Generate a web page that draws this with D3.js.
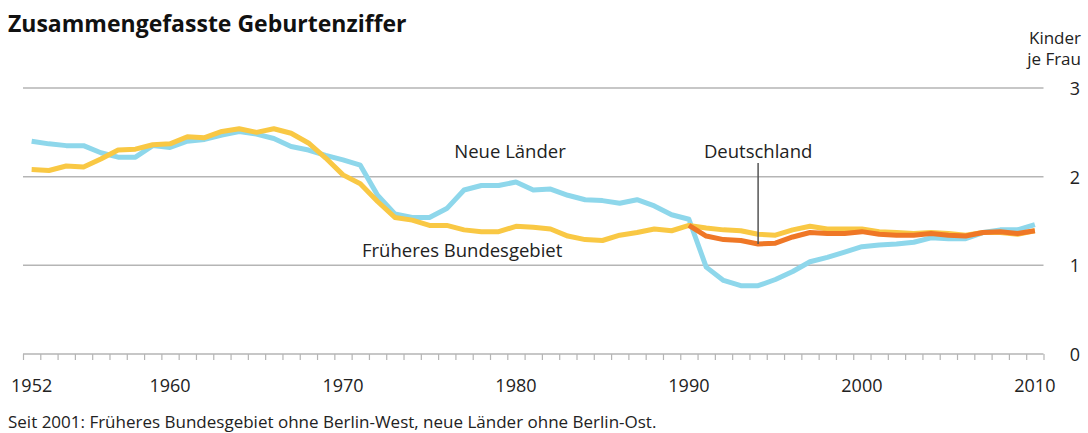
<!DOCTYPE html>
<html>
<head>
<meta charset="utf-8">
<script src="https://cdn.jsdelivr.net/npm/d3@7"></script>
<style>
  html, body { margin: 0; padding: 0; background: #fff; }
  svg { display: block; }
  text { font-family: "Open Sans", "Noto Sans", sans-serif; fill: #222; }
</style>
</head>
<body>
<svg id="chart" width="1088" height="433"></svg>
<script>
// ---- Data ----
const firstYear = 1952;
const lastYear = 2010;
const years = d3.range(firstYear, lastYear + 1);

const westValues = [2.08, 2.07, 2.12, 2.11, 2.20, 2.30, 2.31, 2.36, 2.37, 2.45,
  2.44, 2.51, 2.54, 2.50, 2.54, 2.49, 2.38, 2.21, 2.02, 1.92,
  1.72, 1.54, 1.51, 1.45, 1.45, 1.40, 1.38, 1.38, 1.44, 1.43,
  1.41, 1.33, 1.29, 1.28, 1.34, 1.37, 1.41, 1.39, 1.45, 1.42,
  1.40, 1.39, 1.35, 1.34, 1.40, 1.44, 1.41, 1.41, 1.41, 1.38,
  1.37, 1.36, 1.37, 1.36, 1.34, 1.37, 1.37, 1.35, 1.39];

const eastValues = [2.40, 2.37, 2.35, 2.35, 2.27, 2.22, 2.22, 2.35, 2.33, 2.40,
  2.42, 2.47, 2.51, 2.48, 2.43, 2.34, 2.30, 2.24, 2.19, 2.13,
  1.79, 1.58, 1.54, 1.54, 1.64, 1.85, 1.90, 1.90, 1.94, 1.85,
  1.86, 1.79, 1.74, 1.73, 1.70, 1.74, 1.67, 1.57, 1.52, 0.98,
  0.83, 0.77, 0.77, 0.84, 0.93, 1.04, 1.09, 1.15, 1.21, 1.23,
  1.24, 1.26, 1.31, 1.30, 1.30, 1.37, 1.40, 1.40, 1.46];

const germanyYears = d3.range(1990, 2011);
const germanyValues = [1.45, 1.33, 1.29, 1.28, 1.24, 1.25, 1.32, 1.37, 1.36, 1.36,
  1.38, 1.35, 1.34, 1.34, 1.36, 1.34, 1.33, 1.37, 1.38, 1.36, 1.39];

const xTickLabels = [1952, 1960, 1970, 1980, 1990, 2000, 2010];
const yTickValues = [0, 1, 2, 3];
const gridValues = [1, 2, 3];

const title = "Zusammengefasste Geburtenziffer";
const unitLines = ["Kinder", "je Frau"];
const footnote = "Seit 2001: Früheres Bundesgebiet ohne Berlin-West, neue Länder ohne Berlin-Ost.";
const pointerYear = 1994;

// ---- Layout ----
const svg = d3.select("#chart");
const plotLeft = 23, plotRight = 1043.5;
const x = d3.scaleLinear().domain([firstYear - 0.5, lastYear + 0.5]).range([plotLeft, plotRight]);
const y = d3.scaleLinear().domain([0, 3]).range([354, 88]);

const colors = { east: "#8ed7eb", west: "#f9c844", germany: "#ef7726", grid: "#b5b5b5", pointer: "#555" };

// Title
svg.append("text").attr("x", 8).attr("y", 32)
  .style("font-size", "23px").style("font-weight", "700").style("fill", "#111")
  .text(title);

// Unit
svg.append("text").attr("text-anchor", "end").style("font-size", "17px")
  .selectAll("tspan").data(unitLines).join("tspan")
  .attr("x", 1081).attr("y", (d, i) => 44 + i * 21).text(d => d);

// Gridlines
svg.append("g").selectAll("line").data(gridValues).join("line")
  .attr("x1", plotLeft).attr("x2", plotRight)
  .attr("y1", d => y(d)).attr("y2", d => y(d))
  .attr("stroke", colors.grid).attr("stroke-width", 1.5);

// X axis with yearly boundary ticks
const boundaries = d3.range(firstYear - 0.5, lastYear + 1, 1);
const xAxis = d3.axisBottom(x).tickValues(boundaries).tickSize(6).tickFormat("");
const gx = svg.append("g").attr("transform", `translate(0,${y(0)})`).call(xAxis);
gx.select(".domain").attr("stroke", colors.grid).attr("stroke-width", 1.5).attr("d", `M${plotLeft},0H${plotRight}`);
gx.selectAll(".tick line").attr("stroke", colors.grid).attr("stroke-width", 1.2);

// X labels
svg.append("g").selectAll("text").data(xTickLabels).join("text")
  .attr("x", d => x(d)).attr("y", 392).attr("text-anchor", "middle")
  .style("font-size", "18px").text(d => d);

// Y labels (right)
svg.append("g").selectAll("text").data(yTickValues).join("text")
  .attr("x", 1080).attr("y", d => y(d) + 7).attr("text-anchor", "end")
  .style("font-size", "18px").text(d => d);

// Lines
const line = d3.line().x(d => x(d[0])).y(d => y(d[1]));
const eastData = years.map((yr, i) => [yr, eastValues[i]]);
const westData = years.map((yr, i) => [yr, westValues[i]]);
const gerData = germanyYears.map((yr, i) => [yr, germanyValues[i]]);

svg.append("path").datum(eastData).attr("d", line)
  .attr("fill", "none").attr("stroke", colors.east).attr("stroke-width", 5).attr("stroke-linejoin", "round");
svg.append("path").datum(westData).attr("d", line)
  .attr("fill", "none").attr("stroke", colors.west).attr("stroke-width", 5).attr("stroke-linejoin", "round");
svg.append("path").datum(gerData).attr("d", line)
  .attr("fill", "none").attr("stroke", colors.germany).attr("stroke-width", 5).attr("stroke-linejoin", "round");

// Annotations
const pointerValue = germanyValues[germanyYears.indexOf(pointerYear)];
svg.append("line").attr("x1", x(pointerYear)).attr("x2", x(pointerYear))
  .attr("y1", 163).attr("y2", y(pointerValue))
  .attr("stroke", colors.pointer).attr("stroke-width", 1.5);

svg.append("text").attr("x", x(pointerYear)).attr("y", 158).attr("text-anchor", "middle")
  .style("font-size", "18.5px").text("Deutschland");
svg.append("text").attr("x", 510).attr("y", 158).attr("text-anchor", "middle")
  .style("font-size", "18.5px").text("Neue Länder");
svg.append("text").attr("x", 362).attr("y", 257).attr("text-anchor", "start")
  .style("font-size", "18.5px").text("Früheres Bundesgebiet");

// Footnote
svg.append("text").attr("x", 8).attr("y", 428)
  .style("font-size", "17px").text(footnote);
</script>
</body>
</html>
